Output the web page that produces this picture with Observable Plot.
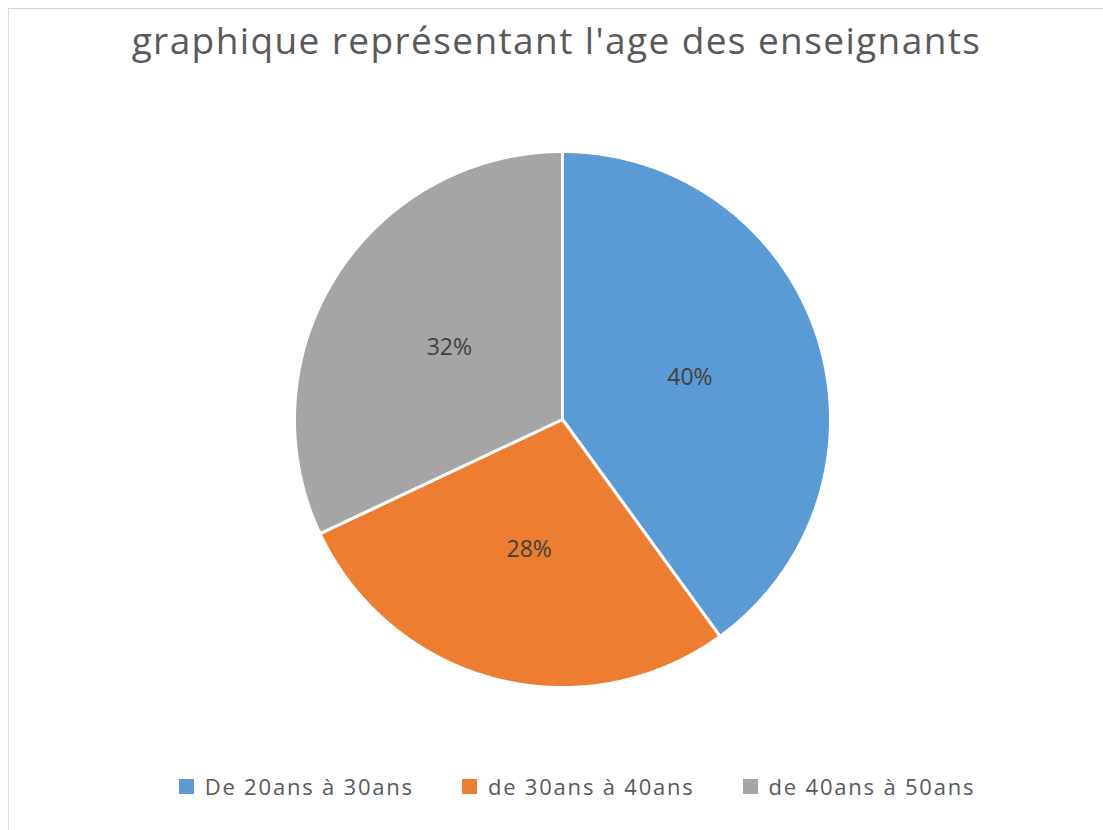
<!DOCTYPE html>
<html>
<head>
<meta charset="utf-8">
<script src="https://cdn.jsdelivr.net/npm/d3@7"></script>
<script src="https://cdn.jsdelivr.net/npm/@observablehq/plot@0.6"></script>
<style>
  html, body { margin: 0; padding: 0; background: #fff; }
  body { width: 1103px; height: 830px; position: relative; overflow: hidden; font-family: "Open Sans", sans-serif; }
  #frame { position: absolute; left: 8px; top: 8px; right: -2px; bottom: -2px; border-left: 1px solid #dcdcdc; border-top: 1px solid #d4d4d4; box-shadow: 0 1px 1px #eee; }
  #chart { position: absolute; left: 0; top: 0; }
  #title { position: absolute; left: 0; width: 1113px; top: 14px; text-align: center; font-size: 37px; color: #595959; letter-spacing: 1.4px; white-space: nowrap; }
  #legend { position: absolute; top: 771px; left: 0; width: 1154px; display: flex; justify-content: center; gap: 48px; font-size: 22px; color: #595959; letter-spacing: 1.8px; }
  .item { display: flex; align-items: center; white-space: nowrap; }
  .sw { width: 15px; height: 15px; margin-right: 11px; display: inline-block; }
</style>
</head>
<body>
<div id="frame"></div>
<div id="chart"></div>
<div id="title">graphique représentant l'age des enseignants</div>
<div id="legend"></div>
<script>
const categories = ["De 20ans à 30ans", "de 30ans à 40ans", "de 40ans à 50ans"];
const values = [40, 28, 32];
const colors = ["#5B9BD5", "#ED7D31", "#A5A5A5"];

const total = d3.sum(values);
let acc = 0;
const slices = categories.map((c, i) => {
  const a0 = acc / total * 2 * Math.PI;
  acc += values[i];
  const a1 = acc / total * 2 * Math.PI;
  const n = Math.max(2, Math.ceil((a1 - a0) / (Math.PI / 360)));
  const pts = [{x: 0, y: 0}];
  for (let k = 0; k <= n; k++) {
    const t = a0 + (a1 - a0) * k / n;
    pts.push({x: Math.sin(t), y: Math.cos(t)});
  }
  pts.push({x: 0, y: 0});
  const mid = (a0 + a1) / 2;
  return {cat: c, value: values[i], color: colors[i], pts, lx: 0.5 * Math.sin(mid), ly: 0.5 * Math.cos(mid)};
});

const marks = slices.map(s => Plot.line(s.pts, {x: "x", y: "y", fill: s.color, stroke: "#fff", strokeWidth: 3, strokeLinejoin: "miter"}));
marks.push(Plot.text(slices, {x: "lx", y: "ly", text: d => d.value + "%", fontSize: 23, fill: "#404040", fontFamily: "Open Sans"}));

const plot = Plot.plot({
  width: 1103,
  height: 830,
  margin: 0,
  x: {domain: [-1, 1], range: [294, 830], axis: null},
  y: {domain: [-1, 1], range: [687, 151], axis: null},
  marks
});
document.getElementById("chart").appendChild(plot);

const legend = document.getElementById("legend");
categories.forEach((c, i) => {
  const it = document.createElement("div");
  it.className = "item";
  it.innerHTML = `<span class="sw" style="background:${colors[i]}"></span><span>${c}</span>`;
  legend.appendChild(it);
});
</script>
</body>
</html>
